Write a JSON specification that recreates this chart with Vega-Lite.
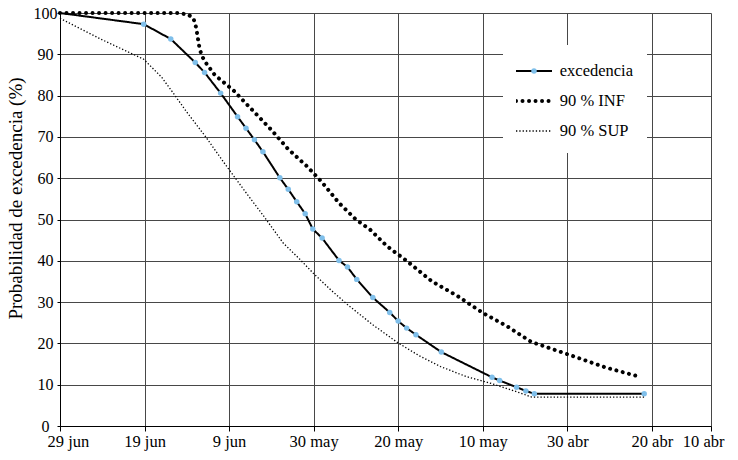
{
  "$schema": "https://vega.github.io/schema/vega-lite/v6.json",
  "width": 651,
  "height": 413,
  "autosize": {"type": "none"},
  "padding": {"left": 60, "top": 13, "right": 27, "bottom": 34},
  "background": "white",
  "config": {
    "font": "Liberation Serif",
    "view": {"stroke": null},
    "axis": {
      "gridColor": "#474747",
      "gridWidth": 1,
      "gridOpacity": 1,
      "domainColor": "#000000",
      "domainWidth": 1,
      "tickColor": "#000000",
      "labelColor": "#000000",
      "labelFont": "Liberation Serif",
      "labelFontSize": 16.5,
      "titleFont": "Liberation Serif",
      "titleColor": "#000000",
      "titleFontWeight": "normal",
      "titleFontSize": 19
    }
  },
  "data": {
    "values": [
      {"serie": "excedencia", "dias": 0, "prob": 100},
      {"serie": "excedencia", "dias": 9.9, "prob": 97.3},
      {"serie": "excedencia", "dias": 13.1, "prob": 93.7},
      {"serie": "excedencia", "dias": 16.0, "prob": 88.0},
      {"serie": "excedencia", "dias": 17.1, "prob": 85.6},
      {"serie": "excedencia", "dias": 19.0, "prob": 80.6},
      {"serie": "excedencia", "dias": 21.0, "prob": 74.9},
      {"serie": "excedencia", "dias": 22.0, "prob": 72.1},
      {"serie": "excedencia", "dias": 23.0, "prob": 69.3},
      {"serie": "excedencia", "dias": 24.0, "prob": 66.4},
      {"serie": "excedencia", "dias": 26.0, "prob": 60.1},
      {"serie": "excedencia", "dias": 27.0, "prob": 57.3},
      {"serie": "excedencia", "dias": 28.0, "prob": 54.3},
      {"serie": "excedencia", "dias": 29.0, "prob": 51.4},
      {"serie": "excedencia", "dias": 29.9, "prob": 47.7},
      {"serie": "excedencia", "dias": 31.0, "prob": 45.5},
      {"serie": "excedencia", "dias": 33.0, "prob": 40.1},
      {"serie": "excedencia", "dias": 34.0, "prob": 38.5},
      {"serie": "excedencia", "dias": 35.1, "prob": 35.5},
      {"serie": "excedencia", "dias": 37.0, "prob": 31.1},
      {"serie": "excedencia", "dias": 39.0, "prob": 27.5},
      {"serie": "excedencia", "dias": 40.0, "prob": 25.4},
      {"serie": "excedencia", "dias": 41.0, "prob": 23.7},
      {"serie": "excedencia", "dias": 42.1, "prob": 22.1},
      {"serie": "excedencia", "dias": 45.1, "prob": 17.9},
      {"serie": "excedencia", "dias": 51.1, "prob": 11.8},
      {"serie": "excedencia", "dias": 52.0, "prob": 11.0},
      {"serie": "excedencia", "dias": 54.0, "prob": 9.4},
      {"serie": "excedencia", "dias": 55.1, "prob": 8.5},
      {"serie": "excedencia", "dias": 56.1, "prob": 7.8},
      {"serie": "excedencia", "dias": 69.1, "prob": 7.8},
      {"serie": "90 % INF", "dias": 0, "prob": 100},
      {"serie": "90 % INF", "dias": 5, "prob": 100},
      {"serie": "90 % INF", "dias": 10, "prob": 100},
      {"serie": "90 % INF", "dias": 14, "prob": 100},
      {"serie": "90 % INF", "dias": 15.2, "prob": 99.6},
      {"serie": "90 % INF", "dias": 15.8, "prob": 98.6},
      {"serie": "90 % INF", "dias": 16.1, "prob": 96.5},
      {"serie": "90 % INF", "dias": 16.3, "prob": 94},
      {"serie": "90 % INF", "dias": 16.5, "prob": 91.5},
      {"serie": "90 % INF", "dias": 16.8, "prob": 89.5},
      {"serie": "90 % INF", "dias": 17.3, "prob": 87.8},
      {"serie": "90 % INF", "dias": 18.3, "prob": 85},
      {"serie": "90 % INF", "dias": 20.5, "prob": 81.3},
      {"serie": "90 % INF", "dias": 22.7, "prob": 76.6},
      {"serie": "90 % INF", "dias": 25, "prob": 71.7},
      {"serie": "90 % INF", "dias": 27, "prob": 67},
      {"serie": "90 % INF", "dias": 29.2, "prob": 62.9},
      {"serie": "90 % INF", "dias": 31, "prob": 59},
      {"serie": "90 % INF", "dias": 33, "prob": 54},
      {"serie": "90 % INF", "dias": 35, "prob": 50},
      {"serie": "90 % INF", "dias": 36.7, "prob": 47.5},
      {"serie": "90 % INF", "dias": 38.7, "prob": 43.5},
      {"serie": "90 % INF", "dias": 41, "prob": 40},
      {"serie": "90 % INF", "dias": 44, "prob": 35},
      {"serie": "90 % INF", "dias": 47, "prob": 31.5},
      {"serie": "90 % INF", "dias": 50, "prob": 27.4},
      {"serie": "90 % INF", "dias": 53, "prob": 24},
      {"serie": "90 % INF", "dias": 55.7, "prob": 20.4},
      {"serie": "90 % INF", "dias": 60, "prob": 17.4},
      {"serie": "90 % INF", "dias": 64.5, "prob": 14.2},
      {"serie": "90 % INF", "dias": 68.6, "prob": 11.9},
      {"serie": "90 % SUP", "dias": 0, "prob": 98.7},
      {"serie": "90 % SUP", "dias": 5, "prob": 93.5},
      {"serie": "90 % SUP", "dias": 9.9, "prob": 88.8},
      {"serie": "90 % SUP", "dias": 12, "prob": 84.5},
      {"serie": "90 % SUP", "dias": 13.4, "prob": 80.6},
      {"serie": "90 % SUP", "dias": 15, "prob": 76},
      {"serie": "90 % SUP", "dias": 17.2, "prob": 70.1},
      {"serie": "90 % SUP", "dias": 19.7, "prob": 62.9},
      {"serie": "90 % SUP", "dias": 22, "prob": 56.5},
      {"serie": "90 % SUP", "dias": 24.1, "prob": 50.8},
      {"serie": "90 % SUP", "dias": 26.4, "prob": 44.3},
      {"serie": "90 % SUP", "dias": 28.4, "prob": 40.3},
      {"serie": "90 % SUP", "dias": 30, "prob": 36.9},
      {"serie": "90 % SUP", "dias": 32, "prob": 33},
      {"serie": "90 % SUP", "dias": 34, "prob": 29.4},
      {"serie": "90 % SUP", "dias": 37, "prob": 24.5},
      {"serie": "90 % SUP", "dias": 40, "prob": 20.1},
      {"serie": "90 % SUP", "dias": 42.5, "prob": 17},
      {"serie": "90 % SUP", "dias": 45, "prob": 14.4},
      {"serie": "90 % SUP", "dias": 48, "prob": 12},
      {"serie": "90 % SUP", "dias": 51, "prob": 10.3},
      {"serie": "90 % SUP", "dias": 54, "prob": 8.3},
      {"serie": "90 % SUP", "dias": 55.8, "prob": 7},
      {"serie": "90 % SUP", "dias": 69.1, "prob": 7}
    ]
  },
  "encoding": {
    "x": {
      "field": "dias",
      "type": "quantitative",
      "scale": {"domain": [0, 77], "nice": false, "zero": false},
      "axis": {
        "title": null,
        "values": [0, 10, 20, 30, 40, 50, 60, 70, 77],
        "labelExpr": "['29 jun','19 jun','9 jun','30 may','20 may','10 may','30 abr','20 abr','10 abr'][round(datum.value/10)]",
        "grid": true,
        "tickSize": 5,
        "labelPadding": 2,
        "labelFlush": true,
        "labelFlushOffset": 13
      }
    },
    "y": {
      "field": "prob",
      "type": "quantitative",
      "scale": {"domain": [0, 100], "nice": false},
      "axis": {
        "title": "Probabilidad de excedencia (%)",
        "values": [0, 10, 20, 30, 40, 50, 60, 70, 80, 90, 100],
        "grid": true,
        "tickSize": 3,
        "labelAlign": "center",
        "labelFontSize": 16,
        "labelPadding": 12,
        "titleX": -44.5,
        "titleY": 185,
        "titleAlign": "center",
        "titleBaseline": "middle",
        "titleAngle": -90
      }
    }
  },
  "layer": [
    {
      "transform": [{"filter": "datum.serie === 'excedencia'"}],
      "mark": {"type": "line", "color": "black", "strokeWidth": 2},
      "encoding": {
        "strokeDash": {
          "field": "serie",
          "type": "nominal",
          "scale": {"domain": ["excedencia", "90 % INF", "90 % SUP"], "range": [[1, 0], [0.01, 6.5], [1.3, 2]]},
          "legend": {
            "title": "\u00a0\u00a0\u00a0\u00a0\u00a0\u00a0\u00a0\u00a0\u00a0\u00a0\u00a0\u00a0\u00a0\u00a0\u00a0\u00a0\u00a0\u00a0\u00a0\u00a0\u00a0\u00a0\u00a0\u00a0\u00a0\u00a0\u00a0\u00a0\u00a0\u00a0\u00a0\u00a0\u00a0\u00a0\u00a0\u00a0\u00a0\u00a0\u00a0\u00a0\u00a0\u00a0\u00a0\u00a0\u00a0\u00a0\u00a0\u00a0\u00a0\u00a0\u00a0\u00a0\u00a0\u00a0\u00a0\u00a0\u00a0\u00a0\u00a0\u00a0\u00a0\u00a0\u00a0\u00a0\u00a0\u00a0\u00a0\u00a0\u00a0\u00a0\u00a0\u00a0\u00a0\u00a0\u00a0\u00a0\u00a0\u00a0\u00a0\u00a0\u00a0\u00a0\u00a0\u00a0\u00a0\u00a0\u00a0\u00a0\u00a0\u00a0\u00a0\u00a0\u00a0\u00a0\u00a0\u00a0\u00a0\u00a0\u00a0\u00a0\u00a0\u00a0\u00a0\u00a0\u00a0\u00a0",
            "titleFontSize": 5,
            "titlePadding": 0,
            "titleLimit": 400,
            "titleFont": "Liberation Serif",
            "orient": "none",
            "legendX": 443,
            "legendY": 32,
            "fillColor": "white",
            "padding": 13,
            "symbolType": "stroke",
            "symbolSize": 1296,
            "symbolStrokeColor": "black",
            "symbolOffset": 9.75,
            "clipHeight": 16,
            "rowPadding": 13,
            "labelFontSize": 16.5,
            "labelOffset": 17.5,
            "labelColor": "black",
            "labelFont": "Liberation Serif",
            "encode": {
              "symbols": {
                "update": {
                  "size": {"value": 1296},
                  "strokeWidth": {"signal": "datum.value === '90 % INF' ? 4 : (datum.value === '90 % SUP' ? 1.3 : 2)"},
                  "strokeCap": {"signal": "datum.value === '90 % INF' ? 'round' : 'butt'"}
                }
              }
            }
          }
        }
      }
    },
    {
      "transform": [{"filter": "datum.serie === 'excedencia' && datum.dias > 0"}],
      "mark": {"type": "circle", "opacity": 1, "size": 30},
      "encoding": {
        "fill": {
          "field": "serie",
          "type": "nominal",
          "scale": {"range": ["#7fbfea"]},
          "legend": {
            "title": null,
            "orient": "none",
            "legendX": 471,
            "legendY": 55,
            "padding": 0,
            "zindex": 5,
            "symbolType": "circle",
            "symbolSize": 30,
            "symbolStrokeWidth": 0,
            "labelFontSize": 1,
            "labelOpacity": 0,
            "labelOffset": 0
          }
        }
      }
    },
    {
      "transform": [{"filter": "datum.serie === '90 % INF'"}],
      "mark": {"type": "line", "color": "black", "strokeWidth": 4, "strokeCap": "round"},
      "encoding": {
        "strokeDash": {"field": "serie", "type": "nominal"}
      }
    },
    {
      "transform": [{"filter": "datum.serie === '90 % SUP'"}],
      "mark": {"type": "line", "color": "black", "strokeWidth": 1.3},
      "encoding": {
        "strokeDash": {"field": "serie", "type": "nominal"}
      }
    }
  ]
}
